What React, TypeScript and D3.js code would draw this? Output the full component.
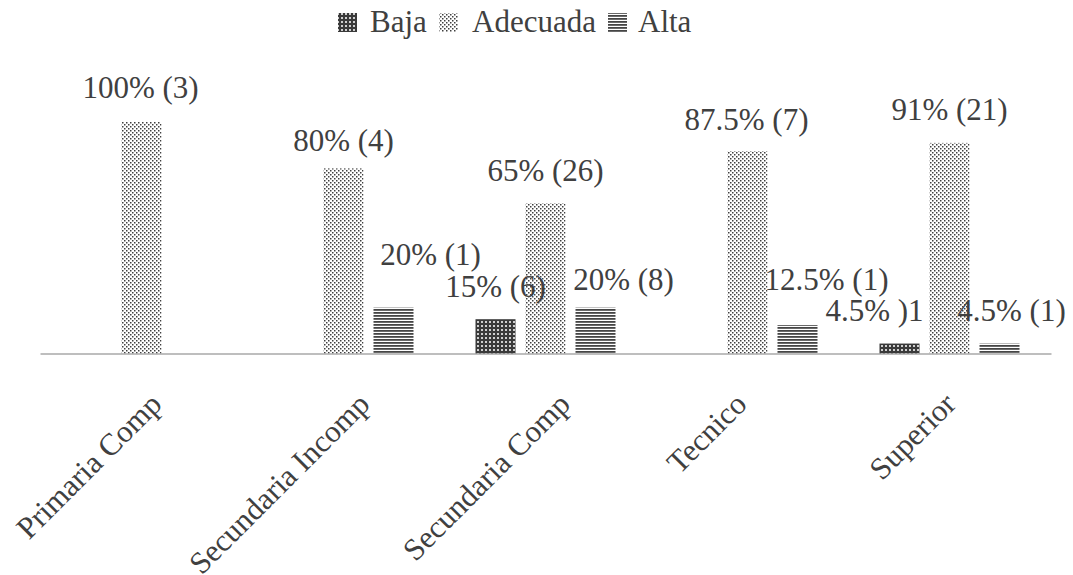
import React from "react";
import * as d3 from "d3";

const categories = ["Primaria Comp", "Secundaria Incomp", "Secundaria Comp", "Tecnico", "Superior"];
const seriesNames = ["Baja", "Adecuada", "Alta"];

const bajaValues: (number | null)[] = [null, null, 15, null, 4.5];
const adecuadaValues: (number | null)[] = [100, 80, 65, 87.5, 91];
const altaValues: (number | null)[] = [null, 20, 20, 12.5, 4.5];

const bajaLabels = ["", "", "15% (6)", "", "4.5% )1"];
const adecuadaLabels = ["100% (3)", "80% (4)", "65% (26)", "87.5% (7)", "91% (21)"];
const altaLabels = ["", "20% (1)", "20% (8)", "12.5% (1)", "4.5% (1)"];

// hand-placed data label nudges [dx, dy] relative to bar centre / bar top
const bajaLabelNudge = [[0, 0], [0, 0], [0, -22], [0, 0], [-25, -23]];
const adecuadaLabelNudge = [[-1, -24], [0, -17], [0, -22], [-1, -21], [0, -23]];
const altaLabelNudge = [[0, 0], [37, -43], [28, -18], [29, -35], [12, -23]];

// rotated category label anchor shift along x
const categoryLabelShift = [22, 28, 26.5, 1, 8];

const W = 1073;
const H = 575;
const FONT = "'Liberation Serif', 'Times New Roman', serif";
const TEXT = "#404040";

const series = [
  { name: seriesNames[0], values: bajaValues, labels: bajaLabels, nudge: bajaLabelNudge, fill: "url(#pat-baja)" },
  { name: seriesNames[1], values: adecuadaValues, labels: adecuadaLabels, nudge: adecuadaLabelNudge, fill: "url(#pat-adecuada)" },
  { name: seriesNames[2], values: altaValues, labels: altaLabels, nudge: altaLabelNudge, fill: "url(#pat-alta)" },
];

export default function App() {
  const x = d3.scaleBand<string>().domain(categories).range([40.5, 1050.5]).padding(0);
  const inner = d3.scaleBand<string>().domain(seriesNames).range([-70, 70]).paddingInner(0.2).paddingOuter(0);
  const y = d3.scaleLinear().domain([0, 100]).range([354, 122]);

  const legendItems = [
    { name: "Baja", fill: "url(#pat-baja)", sx: 338, tx: 370 },
    { name: "Adecuada", fill: "url(#pat-adecuada)", sx: 439, tx: 472 },
    { name: "Alta", fill: "url(#pat-alta)", sx: 608, tx: 638 },
  ];

  return (
    <svg width={W} height={H} style={{ position: "absolute", left: 0, top: 0, background: "#fff" }}>
      <defs>
        <pattern id="pat-baja" width={4} height={4} patternUnits="userSpaceOnUse">
          <rect width={4} height={4} fill="#3a3a3a" />
          <rect x={1} y={1} width={2} height={2} fill="#cfcfcf" />
        </pattern>
        <pattern id="pat-adecuada" width={4} height={4} patternUnits="userSpaceOnUse">
          <rect width={4} height={4} fill="#ffffff" />
          <rect x={0} y={0} width={1.5} height={1.5} fill="#3f3f3f" />
          <rect x={2} y={2} width={1.5} height={1.5} fill="#3f3f3f" />
        </pattern>
        <pattern id="pat-alta" width={3} height={3} patternUnits="userSpaceOnUse">
          <rect width={3} height={3} fill="#ffffff" />
          <rect x={0} y={0} width={3} height={1.8} fill="#454545" />
        </pattern>
      </defs>

      {/* legend */}
      {legendItems.map((d) => (
        <g key={d.name}>
          <rect x={d.sx} y={13} width={19} height={19} fill={d.fill} />
          <text x={d.tx} y={32} fontFamily={FONT} fontSize={31} fill={TEXT}>
            {d.name}
          </text>
        </g>
      ))}

      {/* bars */}
      {series.map((s) =>
        categories.map((c, i) => {
          const v = s.values[i];
          if (v == null) return null;
          const bx = (x(c) as number) + x.bandwidth() / 2 + (inner(s.name) as number);
          return (
            <rect
              key={s.name + c}
              x={bx}
              y={y(v)}
              width={inner.bandwidth()}
              height={y(0) - y(v)}
              fill={s.fill}
            />
          );
        })
      )}

      {/* axis line */}
      <line x1={40.5} x2={1051.5} y1={354} y2={354} stroke="#a9a9a9" strokeWidth={1.5} />

      {/* data labels */}
      {series.map((s) =>
        categories.map((c, i) => {
          const v = s.values[i];
          if (v == null) return null;
          const cx = (x(c) as number) + x.bandwidth() / 2 + (inner(s.name) as number) + inner.bandwidth() / 2;
          const [dx, dy] = s.nudge[i];
          return (
            <text
              key={"l" + s.name + c}
              x={cx + dx}
              y={y(v) + dy}
              textAnchor="middle"
              fontFamily={FONT}
              fontSize={31}
              fill={TEXT}
            >
              {s.labels[i]}
            </text>
          );
        })
      )}

      {/* category labels */}
      {categories.map((c, i) => {
        const ax = (x(c) as number) + x.bandwidth() / 2 + categoryLabelShift[i];
        const ay = 406;
        return (
          <text
            key={"c" + c}
            transform={`translate(${ax},${ay}) rotate(-45)`}
            textAnchor="end"
            fontFamily={FONT}
            fontSize={31}
            fill={TEXT}
          >
            {c}
          </text>
        );
      })}
    </svg>
  );
}
